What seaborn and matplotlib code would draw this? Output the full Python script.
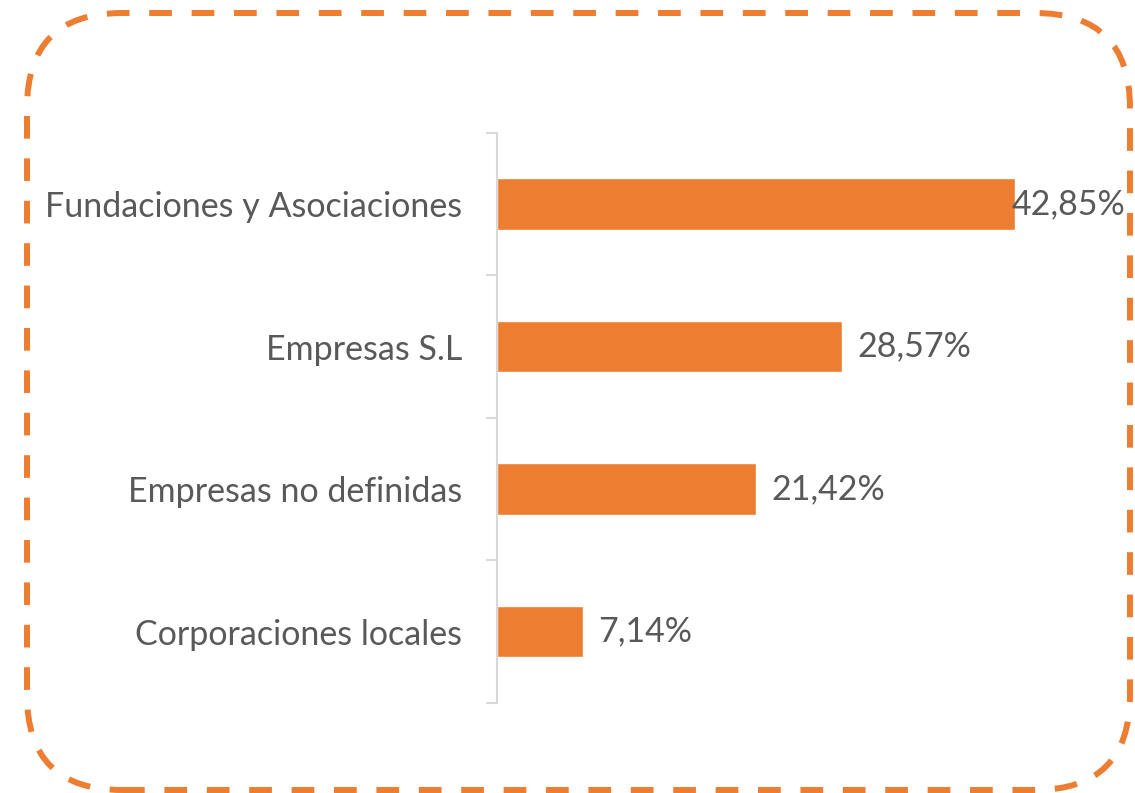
import matplotlib
matplotlib.use("Agg")
import matplotlib.pyplot as plt
import seaborn as sns
import pandas as pd
from matplotlib.patches import FancyBboxPatch
from matplotlib.ticker import FixedLocator

categories = ["Fundaciones y Asociaciones", "Empresas S.L", "Empresas no definidas", "Corporaciones locales"]
values = [42.85, 28.57, 21.42, 7.14]
labels = ["42,85%", "28,57%", "21,42%", "7,14%"]

sns.set_theme(style="white")
plt.rcParams['font.family'] = ['Lato', 'DejaVu Sans']

ORANGE = "#ED7D31"
GREY_TXT = "#595959"
GREY_LN = "#D9D9D9"
FS = 24.5

fig = plt.figure(figsize=(11.35, 7.93), dpi=100)
ax = fig.add_axes([0.438, 0.1135, 0.479, 0.7192])

df = pd.DataFrame({"cat": categories, "val": values})
sns.barplot(data=df, x="val", y="cat", orient="h", color=ORANGE, saturation=1,
            width=0.36, ax=ax)

ax.set_xlim(0, 45)
ax.set_ylim(len(categories) - 0.5, -0.5)
ax.set_xlabel("")
ax.set_ylabel("")
ax.set_xticks([])
for s in ["top", "right", "bottom"]:
    ax.spines[s].set_visible(False)
ax.spines["left"].set_color(GREY_LN)
ax.spines["left"].set_linewidth(1.5)

ax.yaxis.set_minor_locator(FixedLocator([i - 0.5 for i in range(len(categories) + 1)]))
ax.tick_params(axis="y", which="minor", length=8, width=1.5, color=GREY_LN, left=True)
ax.tick_params(axis="y", which="major", length=0, pad=25, labelsize=FS, labelcolor=GREY_TXT)

label_cap = 42.6
for i, (v, t) in enumerate(zip(values, labels)):
    ax.text(min(v + 1.25, label_cap), i, t, ha="left", va="center",
            fontsize=FS, color=GREY_TXT, clip_on=False)

border = FancyBboxPatch((0.27, 0.03), 11.03, 7.77,
                        boxstyle="round,pad=0,rounding_size=0.95",
                        transform=fig.dpi_scale_trans, fill=False,
                        edgecolor=ORANGE, linewidth=4.3,
                        linestyle=(0, (3.8, 3.3)), capstyle="butt")
fig.patches.append(border)

fig.savefig("out.png", dpi=100, facecolor="white")
